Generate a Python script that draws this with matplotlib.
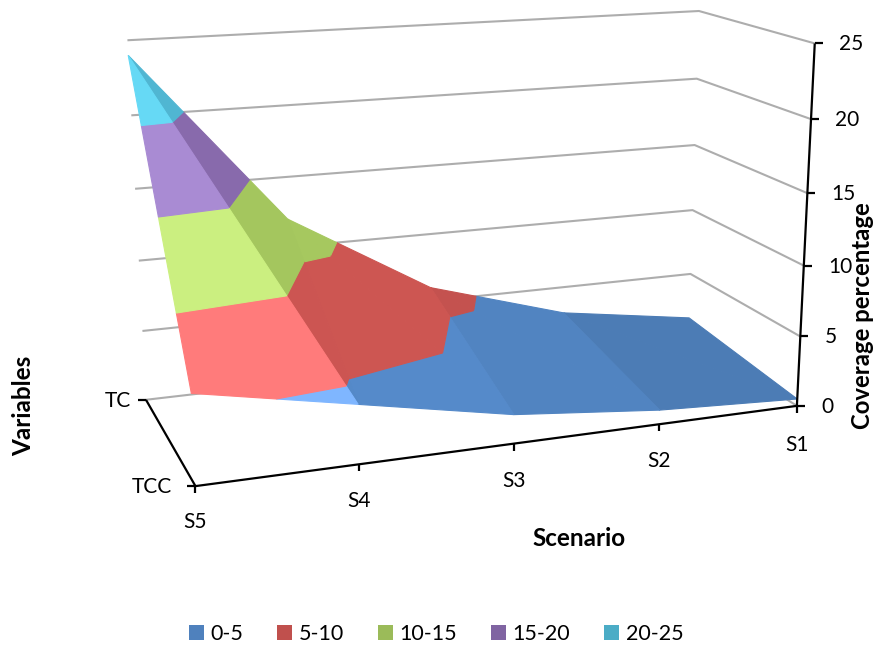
import numpy as np
import matplotlib
matplotlib.use("Agg")
import matplotlib.pyplot as plt
from matplotlib.patches import Patch

plt.rcParams["font.family"] = ["Lato", "DejaVu Sans"]

# Surface values per scenario, ordered S5 to S1
scenarios = ["S5", "S4", "S3", "S2", "S1"]
variables = ["TC", "TCC"]
tc_values = [24, 12, 6, 3, 1.5]
tcc_values = [6, 4, 2, 1, 0.5]

band_levels = [0, 5, 10, 15, 20, 25]
band_labels = ["0-5", "5-10", "10-15", "15-20", "20-25"]
band_colors = ["#4F81BD", "#C0504D", "#9BBB59", "#8064A2", "#4BACC6"]

# The steepest facet catches the light and has its own brighter palette
lit_colors = ["#7FB6FF", "#FF7B7B", "#CBEF80", "#A98BD3", "#66D9F5"]

# Brightness factor of each surface facet (lower, upper) per cell, S5 side first
facet_shades = [(None, 1.06), (1.07, 1.07), (1.02, 1.02), (0.96, 0.96)]

# Frame reference points: (scenario index, variable index, value) -> pixel
frame_refs = [
    (0, 0, 0, 147, 399), (0, 0, 5, 142, 331), (0, 0, 10, 138, 261),
    (0, 0, 15, 135, 189), (0, 0, 20, 131, 115), (0, 0, 25, 128, 40),
    (4, 0, 0, 688, 337), (4, 0, 5, 691, 274), (4, 0, 10, 692, 210),
    (4, 0, 15, 695, 145), (4, 0, 20, 697, 79), (4, 0, 25, 699, 11),
    (4, 1, 0, 797, 406), (4, 1, 5, 801, 336), (4, 1, 10, 804, 265),
    (4, 1, 15, 808, 193), (4, 1, 20, 811, 119), (4, 1, 25, 814, 44),
    (0, 1, 0, 196, 487), (1, 1, 0, 359, 464), (2, 1, 0, 514, 444),
    (3, 1, 0, 658, 424),
]


def fit_camera(refs):
    """Least-squares 3x4 projective camera from reference points."""
    rows, rhs = [], []
    for x, y, z, u, v in refs:
        rows.append([x, y, z, 1, 0, 0, 0, 0, -u * x, -u * y, -u * z])
        rows.append([0, 0, 0, 0, x, y, z, 1, -v * x, -v * y, -v * z])
        rhs += [u, v]
    sol = np.linalg.lstsq(np.array(rows, float), np.array(rhs, float), rcond=None)[0]
    return np.append(sol, 1.0).reshape(3, 4)


camera = fit_camera(frame_refs)


def project(x, y, z):
    u, v, w = camera @ np.array([x, y, z, 1.0])
    return u / w, v / w


def clip_to_band(poly, low, high):
    """Clip a 3D polygon to low <= value <= high."""
    def clip(points, keep, level):
        out = []
        for i, p in enumerate(points):
            q = points[(i + 1) % len(points)]
            if keep(p[2]):
                out.append(p)
            if keep(p[2]) != keep(q[2]):
                t = (level - p[2]) / (q[2] - p[2])
                out.append(tuple(a + t * (b - a) for a, b in zip(p, q)))
        return out

    poly = clip(poly, lambda z: z >= low, low)
    return clip(poly, lambda z: z <= high, high) if poly else poly


def shaded(band, factor):
    if factor is None:
        return lit_colors[band]
    rgb = np.array(matplotlib.colors.to_rgb(band_colors[band])) * factor
    return tuple(np.clip(rgb, 0, 1))


fig = plt.figure(figsize=(8.75, 6.48), dpi=100)
ax = fig.add_axes([0, 0, 1, 1])
ax.set_xlim(0, 875)
ax.set_ylim(648, 0)
ax.axis("off")

GRID = "#ADADAD"
last_x = len(scenarios) - 1

# Wall gridlines
for level in band_levels:
    pts = [project(0, 0, level), project(last_x, 0, level), project(last_x, 1, level)]
    ax.plot(*zip(*pts), color=GRID, lw=1.5, solid_capstyle="butt", zorder=1)

# Surface, far cells first; each cell splits along TC(i) to TCC(i+1)
for i in range(last_x - 1, -1, -1):
    back_a = (i, 0, tc_values[i])
    back_b = (i + 1, 0, tc_values[i + 1])
    front_a = (i, 1, tcc_values[i])
    front_b = (i + 1, 1, tcc_values[i + 1])
    facets = [([back_a, back_b, front_b], facet_shades[i][1]),
              ([back_a, front_a, front_b], facet_shades[i][0])]
    for tri, factor in facets:
        for b in range(len(band_colors)):
            poly = clip_to_band(tri, band_levels[b], band_levels[b + 1])
            if len(poly) < 3:
                continue
            col = shaded(b, factor)
            ax.fill(*zip(*[project(*p) for p in poly]), facecolor=col,
                    edgecolor=col, lw=0.8, zorder=2)

# Axis lines
AXIS = dict(color="black", lw=1.6, solid_capstyle="butt", zorder=3)
ax.plot(*zip(project(0, 0, 0), project(0, 1, 0)), **AXIS)
ax.plot(*zip(project(0, 1, 0), project(last_x, 1, 0)), **AXIS)
ax.plot(*zip(project(last_x, 1, 0), project(last_x, 1, 25)), **AXIS)

TICK = dict(fontsize=15, color="black", zorder=4)

# Value axis ticks and labels
for level in band_levels:
    u, v = project(last_x, 1, level)
    ax.plot([u, u + 8], [v, v], **AXIS)
    ax.text(u + 24, v + 1, str(level), ha="left", va="center", **TICK)

# Scenario axis ticks and labels
label_drop = [36, 37, 37, 37, 39]
for i, name in enumerate(scenarios):
    u, v = project(i, 1, 0)
    ax.plot([u, u], [v, v + 7], **AXIS)
    ax.text(u, v + label_drop[i], name, ha="center", va="center", **TICK)

# Variable axis ticks and labels
label_gap = [15, 23]
for j, name in enumerate(variables):
    u, v = project(0, j, 0)
    ax.plot([u - 8, u], [v, v], **AXIS)
    ax.text(u - label_gap[j], v + 1, name, ha="right", va="center", **TICK)

# Axis titles
TITLE = dict(fontsize=17.5, fontweight="bold", color="black", ha="center", va="center")
ax.text(579, 538, "Scenario", **TITLE)
ax.text(24, 406, "Variables", rotation=90, **TITLE)
ax.text(862.5, 316, "Coverage percentage", rotation=90, **{**TITLE, "fontsize": 17.2})

handles = [Patch(facecolor=c, edgecolor="none", label=l)
           for c, l in zip(band_colors, band_labels)]
fig.legend(handles=handles, loc="center", bbox_to_anchor=(436 / 875, 1 - 634 / 648),
           ncol=5, frameon=False, fontsize=15.5, handlelength=0.68, handleheight=0.68,
           handletextpad=0.3, columnspacing=1.6, borderpad=0)

fig.savefig("out.png", dpi=100)
